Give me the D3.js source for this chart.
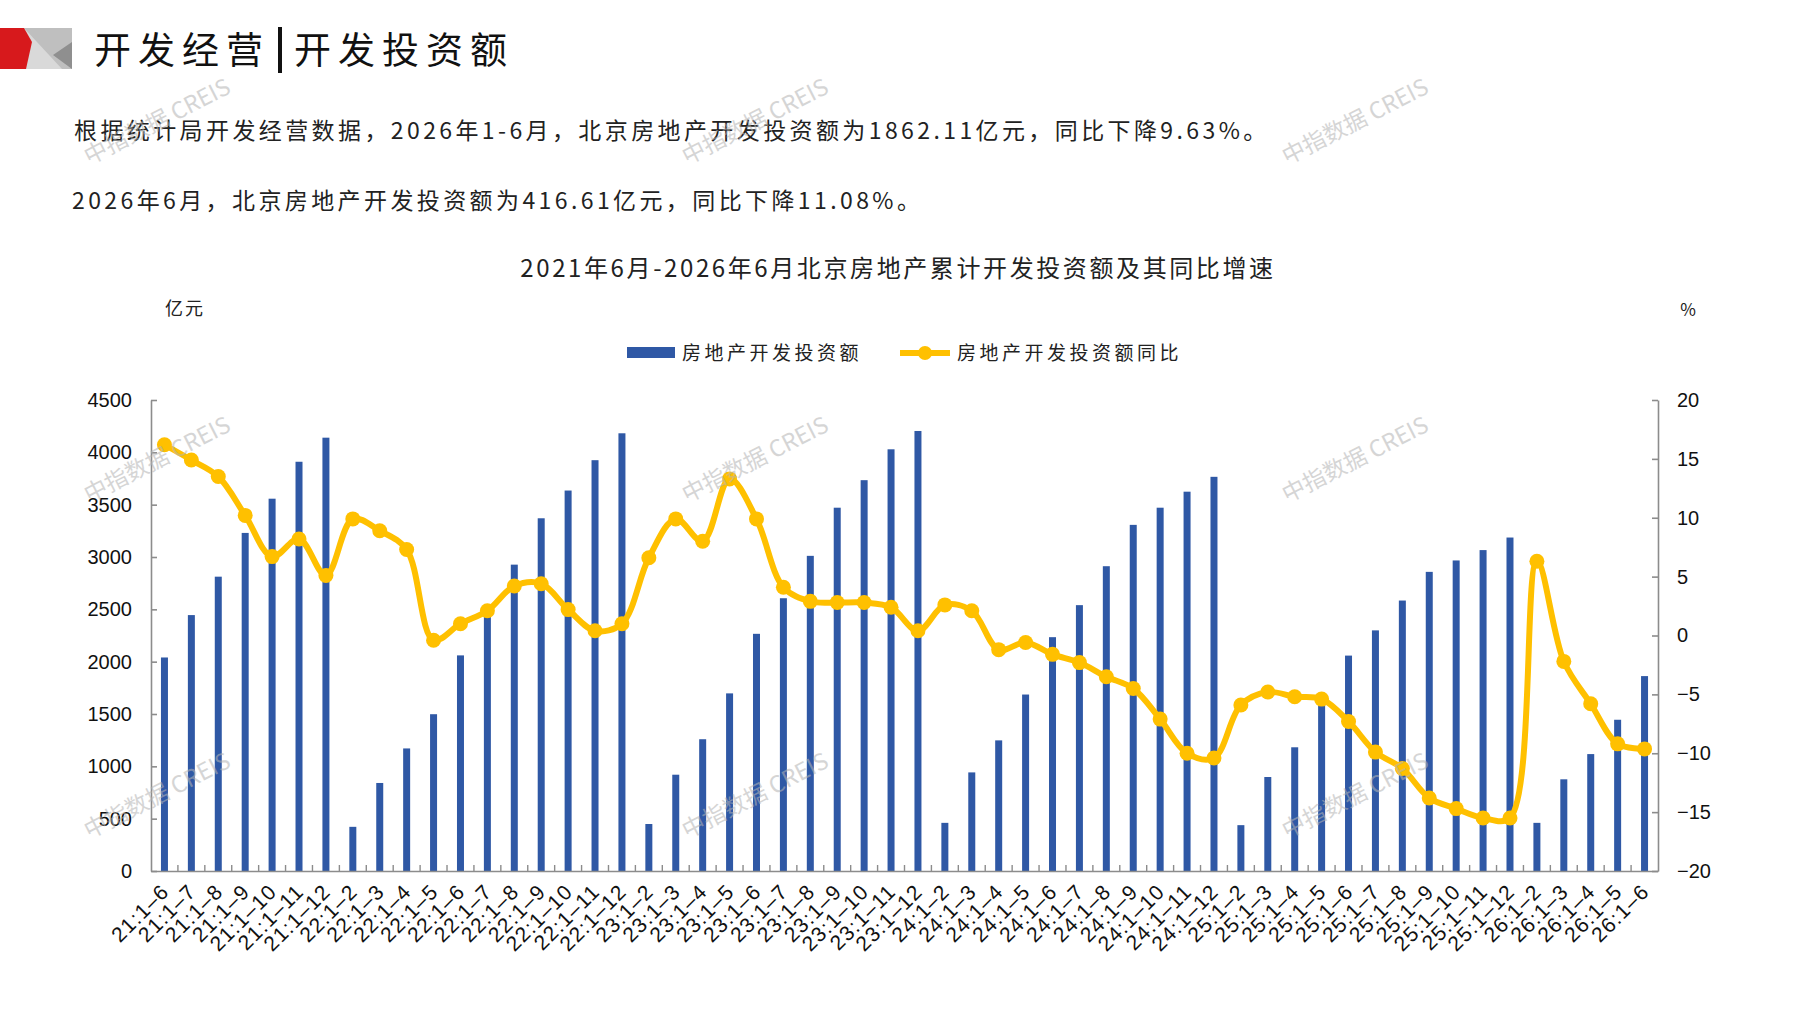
<!DOCTYPE html>
<html>
<head>
<meta charset="utf-8">
<script src="https://cdn.jsdelivr.net/npm/d3@7"></script>
<style>
  body { margin: 0; background: #fff; }
  svg { display: block; }
  .cjk { font-family: "Noto Sans CJK SC", "Noto Sans", sans-serif; }
  .num { font-family: "Liberation Sans", Arial, sans-serif; }
</style>
</head>
<body>
<svg id="chart"></svg>
<script>
// categories (cumulative month ranges)
var categories = [
  "21:1–6","21:1–7","21:1–8","21:1–9","21:1–10","21:1–11","21:1–12",
  "22:1–2","22:1–3","22:1–4","22:1–5","22:1–6","22:1–7","22:1–8","22:1–9","22:1–10","22:1–11","22:1–12",
  "23:1–2","23:1–3","23:1–4","23:1–5","23:1–6","23:1–7","23:1–8","23:1–9","23:1–10","23:1–11","23:1–12",
  "24:1–2","24:1–3","24:1–4","24:1–5","24:1–6","24:1–7","24:1–8","24:1–9","24:1–10","24:1–11","24:1–12",
  "25:1–2","25:1–3","25:1–4","25:1–5","25:1–6","25:1–7","25:1–8","25:1–9","25:1–10","25:1–11","25:1–12",
  "26:1–2","26:1–3","26:1–4","26:1–5","26:1–6"
];

// 房地产开发投资额 (亿元)
var investment = [
  2040,2445,2812,3230,3557,3910,4140,
  422,841,1171,1498,2060,2440,2927,3370,3635,3925,4182,
  449,920,1259,1697,2266,2606,3011,3471,3734,4029,4204,
  460,942,1248,1686,2234,2540,2912,3307,3471,3624,3766,
  438,898,1182,1610,2058,2299,2584,2858,2967,3066,3186,
  460,876,1117,1445,1862.11
];

// 房地产开发投资额同比 (%)
var yoy = [
  16.2,14.9,13.5,10.2,6.7,8.2,5.1,
  9.9,8.9,7.3,-0.4,1.0,2.1,4.2,4.4,2.2,0.4,1.0,
  6.6,9.9,8.0,13.3,9.9,4.1,2.9,2.8,2.8,2.4,0.4,
  2.6,2.1,-1.2,-0.6,-1.6,-2.3,-3.5,-4.5,-7.1,-10.0,-10.4,
  -5.9,-4.8,-5.2,-5.4,-7.3,-9.9,-11.3,-13.8,-14.7,-15.5,-15.5,
  6.3,-2.2,-5.8,-9.2,-9.63
];

var leftTicks = [0,500,1000,1500,2000,2500,3000,3500,4000,4500];
var rightTicks = [-20,-15,-10,-5,0,5,10,15,20];

var watermarkSpots = [
  [158,123],[756,123],[1356,123],
  [158,461],[756,461],[1356,461],
  [158,797],[756,797],[1356,797]
];

var barColor = "#2F58A5";
var lineColor = "#FFC000";
var axisColor = "#8c8c8c";

var screen = {width:1797, height:1010};
var plot = {left:151, right:1658, top:400, bottom:871};

var svg = d3.select("#chart")
    .attr("width",screen.width)
    .attr("height",screen.height);

// header logo
var logo = svg.append("g");
logo.append("rect").attr("x",0).attr("y",28).attr("width",72).attr("height",41).attr("fill","#d9d9d9");
logo.append("polygon").attr("points","24,28 72,28 72,69 62,69").attr("fill","#bfbfbf");
logo.append("polygon").attr("points","72,42 72,69 53,55").attr("fill","#8f8f8f");
logo.append("polygon").attr("points","0,28 24,28 32,42 26,69 0,69").attr("fill","#d7191c");

svg.append("text").attr("class","cjk")
    .attr("x",94).attr("y",64)
    .attr("font-size",37).attr("letter-spacing",7).attr("fill","#111")
    .text("开发经营");
svg.append("rect").attr("x",278).attr("y",27).attr("width",4).attr("height",46).attr("fill","#111");
svg.append("text").attr("class","cjk")
    .attr("x",294).attr("y",64)
    .attr("font-size",37).attr("letter-spacing",7).attr("fill","#111")
    .text("开发投资额");

svg.append("text").attr("class","cjk")
    .attr("x",74).attr("y",139)
    .attr("font-size",23).attr("letter-spacing",3.4).attr("fill","#222")
    .text("根据统计局开发经营数据，2026年1-6月，北京房地产开发投资额为1862.11亿元，同比下降9.63%。");
svg.append("text").attr("class","cjk")
    .attr("x",72).attr("y",209)
    .attr("font-size",23).attr("letter-spacing",3.4).attr("fill","#222")
    .text("2026年6月，北京房地产开发投资额为416.61亿元，同比下降11.08%。");

svg.append("text").attr("class","cjk")
    .attr("x",898).attr("y",277).attr("text-anchor","middle")
    .attr("font-size",24).attr("letter-spacing",2.6).attr("fill","#222")
    .text("2021年6月-2026年6月北京房地产累计开发投资额及其同比增速");

svg.append("text").attr("class","cjk")
    .attr("x",185).attr("y",315).attr("text-anchor","middle")
    .attr("font-size",18).attr("letter-spacing",2).attr("fill","#222")
    .text("亿元");
svg.append("text").attr("class","cjk")
    .attr("x",1688).attr("y",316).attr("text-anchor","middle")
    .attr("font-size",17).attr("fill","#222")
    .text("%");

// legend
var legend = svg.append("g");
legend.append("rect").attr("x",627).attr("y",347).attr("width",48).attr("height",11).attr("fill",barColor);
legend.append("text").attr("class","cjk")
    .attr("x",682).attr("y",360)
    .attr("font-size",19).attr("letter-spacing",3.5).attr("fill","#222")
    .text("房地产开发投资额");
legend.append("line").attr("x1",900).attr("x2",950).attr("y1",353).attr("y2",353)
    .attr("stroke",lineColor).attr("stroke-width",6);
legend.append("circle").attr("cx",925).attr("cy",353).attr("r",7).attr("fill",lineColor);
legend.append("text").attr("class","cjk")
    .attr("x",957).attr("y",360)
    .attr("font-size",19).attr("letter-spacing",3.5).attr("fill","#222")
    .text("房地产开发投资额同比");

// scales
var xScale = d3.scaleBand()
    .domain(categories)
    .range([plot.left,plot.right])
    .paddingInner(0.74)
    .paddingOuter(0.37);

var yLeft = d3.scaleLinear().domain([0,4500]).range([plot.bottom,plot.top]);
var yRight = d3.scaleLinear().domain([-20,20]).range([plot.bottom,plot.top]);

var center = function(d){ return xScale(d) + xScale.bandwidth()/2; };

// bars
svg.append("g")
    .selectAll("rect")
    .data(categories)
    .enter()
    .append("rect")
    .attr("x",function(d){ return xScale(d); })
    .attr("width",xScale.bandwidth())
    .attr("y",function(d,i){ return yLeft(investment[i]); })
    .attr("height",function(d,i){ return yLeft(0) - yLeft(investment[i]); })
    .attr("fill",barColor);

// axes
var leftAxis = svg.append("g")
    .attr("class","num")
    .attr("transform","translate("+plot.left+",0)")
    .call(d3.axisLeft(yLeft).tickValues(leftTicks).tickFormat(d3.format("d"))
        .tickSizeInner(-6).tickSizeOuter(0).tickPadding(19));

var rightAxis = svg.append("g")
    .attr("class","num")
    .attr("transform","translate("+plot.right+",0)")
    .call(d3.axisRight(yRight).tickValues(rightTicks).tickFormat(d3.format("d"))
        .tickSizeInner(-6).tickSizeOuter(0).tickPadding(19));

var bottomAxis = svg.append("g")
    .attr("class","num")
    .attr("transform","translate(0,"+plot.bottom+")")
    .call(d3.axisBottom(xScale).tickSize(0).tickPadding(0));

[leftAxis,rightAxis,bottomAxis].forEach(function(a)
{
    a.selectAll("path,line").attr("stroke",axisColor).attr("stroke-width",1.6);
    a.selectAll("text").attr("font-size",20).attr("fill","#111")
        .attr("font-family","'Liberation Sans', Arial, sans-serif");
});

bottomAxis.selectAll(".tick text")
    .attr("text-anchor","end")
    .attr("dy",null)
    .attr("font-size",21)
    .attr("letter-spacing",1.2)
    .attr("transform","translate(6,22) rotate(-45)");

// boundary ticks between categories
var step = xScale.step();
svg.append("g")
    .selectAll("line")
    .data(d3.range(1,categories.length))
    .enter()
    .append("line")
    .attr("x1",function(i){ return plot.left + i*step; })
    .attr("x2",function(i){ return plot.left + i*step; })
    .attr("y1",plot.bottom)
    .attr("y2",plot.bottom-6)
    .attr("stroke",axisColor)
    .attr("stroke-width",1.4);

// yoy line
var line = d3.line()
    .x(function(d,i){ return center(categories[i]); })
    .y(function(d){ return yRight(d); })
    .curve(d3.curveCatmullRom.alpha(0.5));

svg.append("path")
    .datum(yoy)
    .attr("d",line)
    .attr("fill","none")
    .attr("stroke",lineColor)
    .attr("stroke-width",6)
    .attr("stroke-linejoin","round");

svg.append("g")
    .selectAll("circle")
    .data(yoy)
    .enter()
    .append("circle")
    .attr("cx",function(d,i){ return center(categories[i]); })
    .attr("cy",function(d){ return yRight(d); })
    .attr("r",7.5)
    .attr("fill",lineColor);

// watermarks
svg.append("g")
    .selectAll("text")
    .data(watermarkSpots)
    .enter()
    .append("text")
    .attr("class","cjk")
    .attr("text-anchor","middle")
    .attr("dominant-baseline","middle")
    .attr("transform",function(d){ return "translate("+d[0]+","+d[1]+") rotate(-27)"; })
    .attr("font-size",23)
    .attr("fill","#b4b4b4")
    .attr("opacity",0.55)
    .text("中指数据 CREIS");
</script>
</body>
</html>
